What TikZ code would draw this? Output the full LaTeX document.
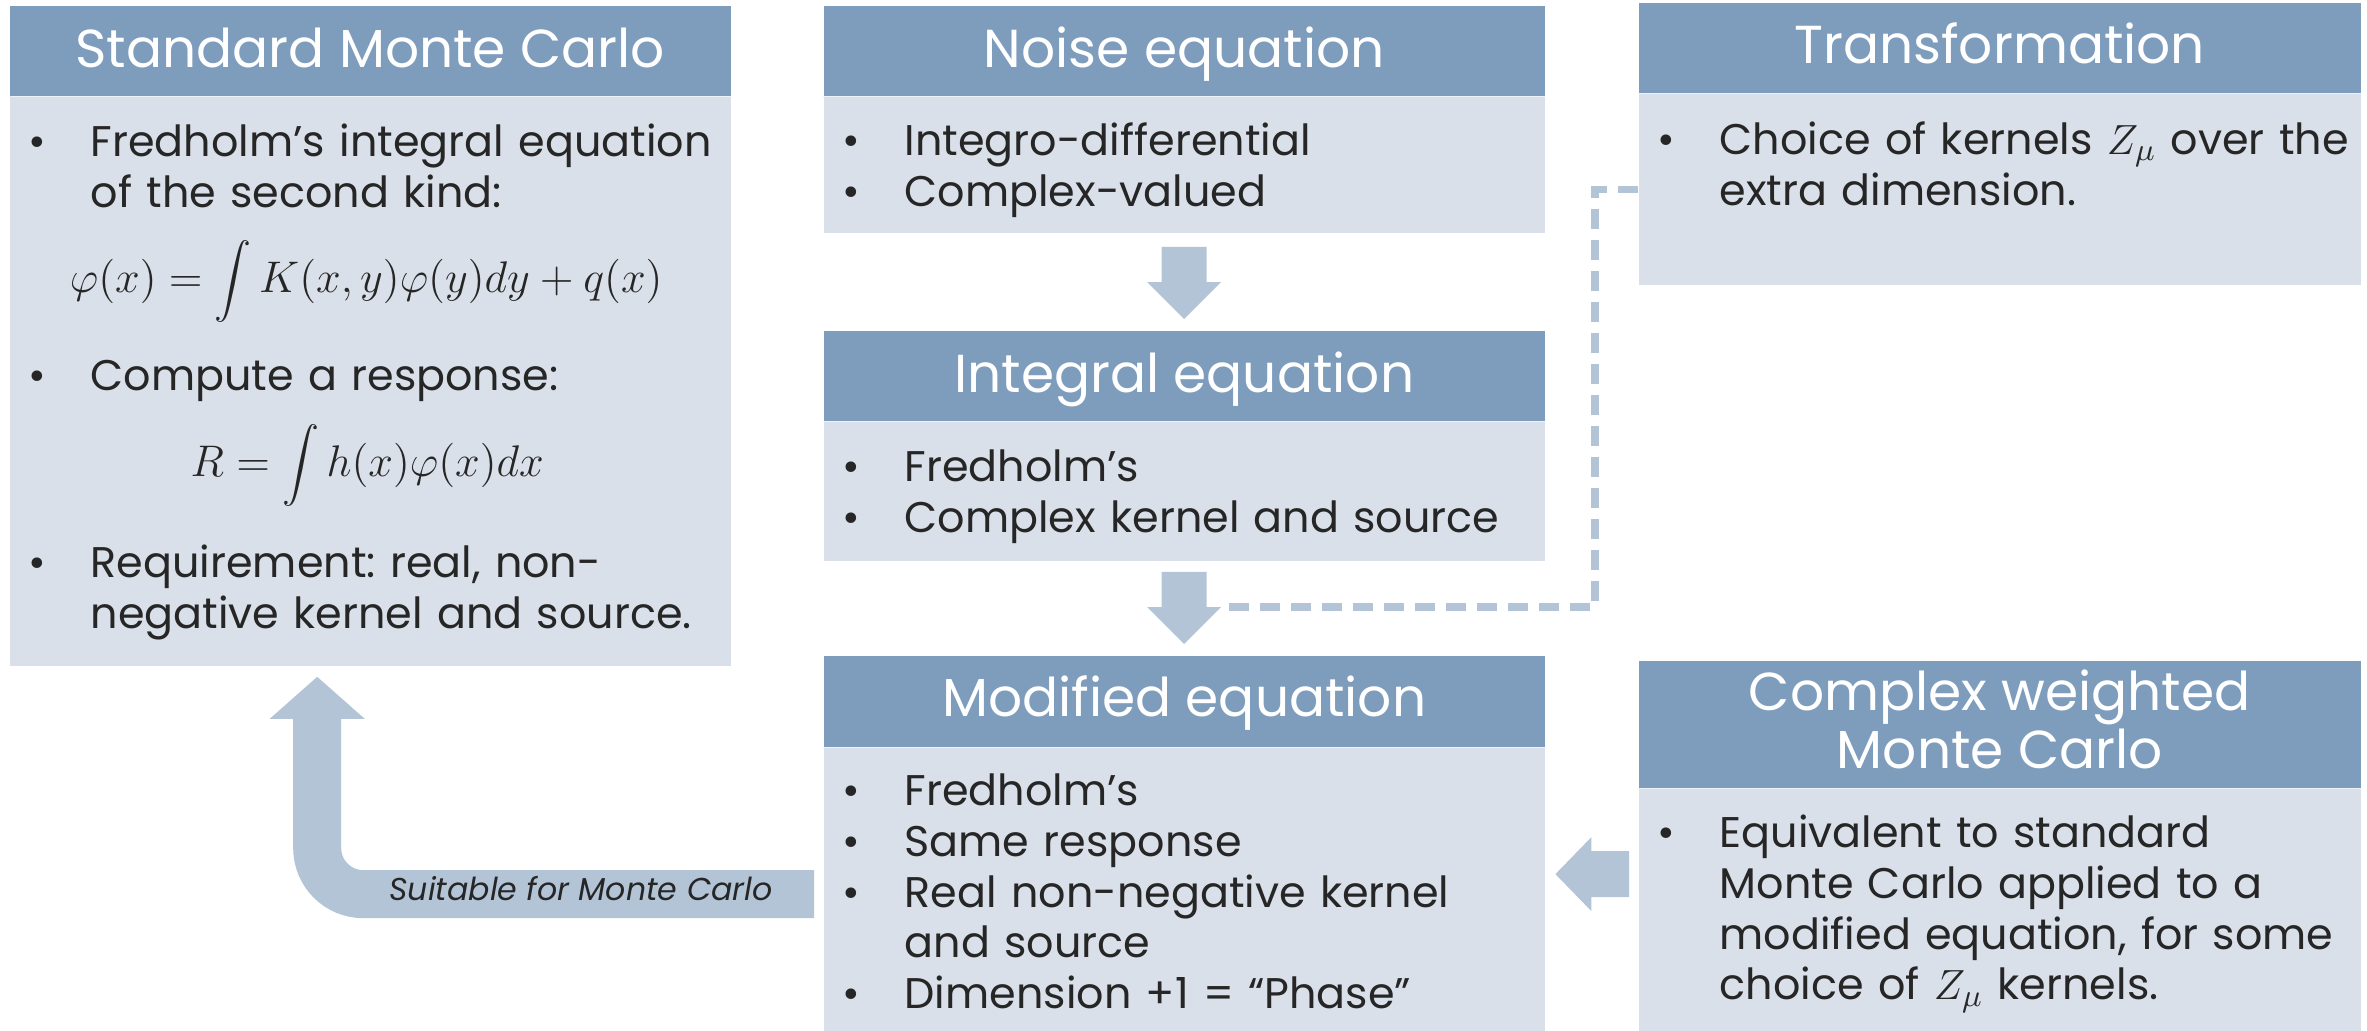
\documentclass[tikz,border=0pt]{standalone}
\usepackage{graphicx}
\usepackage{fontspec}
\setmainfont{Poppins}
\usetikzlibrary{calc}
\frenchspacing

\definecolor{headc}{HTML}{7E9DBD}
\definecolor{bodyc}{HTML}{DAE0E9}
\definecolor{arrowc}{HTML}{B3C4D7}
\definecolor{txtc}{HTML}{262626}

% bullet lists built from one-line paragraphs so that all baselines are evenly spaced;
% \fitem starts a list and fixes the height of its first line, \contline continues an item
\newcommand\bulletmark{\makebox[0.54cm][l]{\hspace{-0.08cm}\textbullet}}
\newcommand\bitem[1]{\par\noindent\bulletmark #1}
\newcommand\fitem[1]{\par\noindent\rule{0pt}{0.45cm}\bulletmark #1}
\newcommand\contline[1]{\par\noindent\hspace*{0.54cm}#1}

% broad downward arrow from #1 (top of shaft) to #2 (tip)
\newcommand\fatdown[2]{\fill[arrowc] let \p1=(#1), \p2=(#2) in
  (\x1-0.225cm,\y1) -- (\x1+0.225cm,\y1) -- (\x1+0.225cm,\y2+0.37cm) --
  (\x1+0.37cm,\y2+0.37cm) -- (\x2,\y2) -- (\x1-0.37cm,\y2+0.37cm) --
  (\x1-0.225cm,\y2+0.37cm) -- cycle;}
% broad leftward arrow from #1 (tail) to #2 (tip)
\newcommand\fatleft[2]{\fill[arrowc] let \p1=(#1), \p2=(#2) in
  (\x1,\y1+0.23cm) -- (\x2+0.36cm,\y1+0.23cm) -- (\x2+0.36cm,\y1+0.37cm) --
  (\x2,\y2) -- (\x2+0.36cm,\y1-0.37cm) -- (\x2+0.36cm,\y1-0.23cm) --
  (\x1,\y1-0.23cm) -- cycle;}

\tikzset{
  headbox/.style={fill=headc, draw=none, inner sep=0pt, anchor=north west,
    minimum width=#1},
  bodybox/.style={fill=bodyc, draw=none, inner sep=0pt, anchor=north west,
    minimum width=#1},
  headtext/.style={text=white, inner sep=0pt, anchor=base, align=center,
    font=\fontsize{15.2}{16.5}\selectfont},
  items/.style={text=txtc, inner sep=0pt, anchor=north west,
    text width=#1, font=\fontsize{12.2}{14.5}\selectfont},
  formula/.style={text=txtc, inner sep=0pt, anchor=center,
    font=\fontsize{12}{14.5}\selectfont},
  note/.style={text=txtc, inner sep=0pt, anchor=base,
    font=\fontsize{9.0}{11}\selectfont\itshape},
  dashconn/.style={draw=arrowc, line width=0.075cm, dash pattern=on 0.2cm off 0.11cm},
  bentshaft/.style={draw=arrowc, line width=0.48cm, rounded corners=0.46cm},
  seam/.style={draw=white!55!bodyc, line width=0.012cm}
}

\begin{document}
\begin{tikzpicture}
\useasboundingbox (0,0) rectangle (23.67,-10.30);
\fill[white] (0,0) rectangle (23.67,-10.30);

% ---- Standard Monte Carlo
\node[headbox=7.21cm, minimum height=0.90cm] (smh) at (0.09,-0.05) {};
\node[bodybox=7.21cm, minimum height=5.69cm] (smb) at (smh.south west) {};
\draw[seam] (smb.north west) -- (smb.north east);
\node[headtext] (smt) at ($(smh.north)+(0,-0.62)$) {Standard Monte Carlo};
\node[items=6.9cm] (sm1) at ($(smb.north west)+(0.27,-0.08)$)
  {\fitem{Fredholm’s integral equation}\contline{of the second kind:}};
\node[formula] (smf1) at ($(smb.north)+(-0.04,-1.85)$)
  {\scalebox{1.05}{$\varphi(x)=\displaystyle\int K(x,y)\varphi(y)dy+q(x)$}};
\node[items=6.9cm] (sm2) at ($(smb.north west)+(0.27,-2.42)$)
  {\fitem{Compute a response:}};
\node[formula] (smf2) at ($(smb.north)+(-0.03,-3.69)$)
  {\scalebox{1.05}{$R=\displaystyle\int h(x)\varphi(x)dx$}};
\node[items=6.9cm] (sm3) at ($(smb.north west)+(0.27,-4.29)$)
  {\fitem{Requirement: real, non-}\contline{negative kernel and source.}};

% ---- Noise equation
\node[headbox=7.21cm, minimum height=0.90cm] (neh) at (8.23,-0.05) {};
\node[bodybox=7.21cm, minimum height=1.36cm] (neb) at (neh.south west) {};
\draw[seam] (neb.north west) -- (neb.north east);
\node[headtext] (net) at ($(neh.north)+(0,-0.62)$) {Noise equation};
\node[items=6.9cm] (ne1) at ($(neb.north west)+(0.27,-0.07)$)
  {\fitem{Integro-differential}\bitem{Complex-valued}};

% ---- Integral equation
\node[headbox=7.21cm, minimum height=0.90cm] (ieh) at (8.23,-3.30) {};
\node[bodybox=7.21cm, minimum height=1.39cm] (ieb) at (ieh.south west) {};
\draw[seam] (ieb.north west) -- (ieb.north east);
\node[headtext] (iet) at ($(ieh.north)+(0,-0.62)$) {Integral equation};
\node[items=6.9cm] (ie1) at ($(ieb.north west)+(0.27,-0.08)$)
  {\fitem{Fredholm’s}\bitem{Complex kernel and source}};

% ---- Modified equation
\node[headbox=7.21cm, minimum height=0.91cm] (meh) at (8.23,-6.55) {};
\node[bodybox=7.21cm, minimum height=2.84cm] (meb) at (meh.south west) {};
\draw[seam] (meb.north west) -- (meb.north east);
\node[headtext] (met) at ($(meh.north)+(0,-0.61)$) {Modified equation};
\node[items=6.9cm] (me1) at ($(meb.north west)+(0.27,-0.06)$)
  {\fitem{Fredholm’s}\bitem{Same response}\bitem{Real non-negative kernel}\contline{and source}\bitem{Dimension +1 = “Phase”}};

% ---- Transformation
\node[headbox=7.22cm, minimum height=0.90cm] (trh) at (16.38,-0.02) {};
\node[bodybox=7.22cm, minimum height=1.91cm] (trb) at (trh.south west) {};
\draw[seam] (trb.north west) -- (trb.north east);
\node[headtext] (trt) at ($(trh.north)+(0,-0.61)$) {Transformation};
\node[items=6.9cm] (tr1) at ($(trb.north west)+(0.27,-0.09)$)
  {\fitem{Choice of kernels $Z_\mu$ over the}\contline{extra dimension.}};

% ---- Complex weighted Monte Carlo
\node[headbox=7.22cm, minimum height=1.27cm] (cwh) at (16.38,-6.60) {};
\node[bodybox=7.22cm, minimum height=2.43cm] (cwb) at (cwh.south west) {};
\draw[seam] (cwb.north west) -- (cwb.north east);
\node[headtext] (cwt) at ($(cwh.north)+(0,-1.08)$) {Complex weighted\\Monte Carlo};
\node[items=6.9cm] (cw1) at ($(cwb.north west)+(0.27,-0.07)$)
  {\fitem{Equivalent to standard}\contline{Monte Carlo applied to a}\contline{modified equation, for some}\contline{choice of $Z_\mu$ kernels.}};

% ---- broad arrows
\coordinate (d1s) at ($(neb.south)+(0,-0.13)$);
\coordinate (d1e) at ($(ieh.north)+(0,0.11)$);
\fatdown{d1s}{d1e}
\coordinate (d2s) at ($(ieb.south)+(0,-0.10)$);
\coordinate (d2e) at ($(meh.north)+(0,0.11)$);
\fatdown{d2s}{d2e}
\coordinate (ltail) at ($(cwb.west)+(-0.09,0.365)$);
\coordinate (ltip) at ($(meb.east)+(0.10,0.16)$);
\fatleft{ltail}{ltip}

% ---- dashed link from the transformation to the second step
\coordinate (d2corner) at ($(d2e)+(0.37,0.37)$);
\draw[dashconn] (trb.west) -- ++(-0.43,0) |- (d2corner);

% ---- bent arrow back to standard Monte Carlo
\coordinate (bstart) at ($(meb.west)+(-0.09,-0.04)$);
\coordinate (btip) at ($(smb.south)+(-0.53,-0.10)$);
\draw[bentshaft] (bstart) -| ($(btip)+(0,-0.42)$);
\fill[arrowc] let \p1=(btip) in (\x1-0.475cm,\y1-0.42cm) -- (\x1+0.475cm,\y1-0.42cm) -- (btip) -- cycle;
\node[note] (bl) at (5.81,-9.00) {Suitable for Monte Carlo};
\end{tikzpicture}
\end{document}
